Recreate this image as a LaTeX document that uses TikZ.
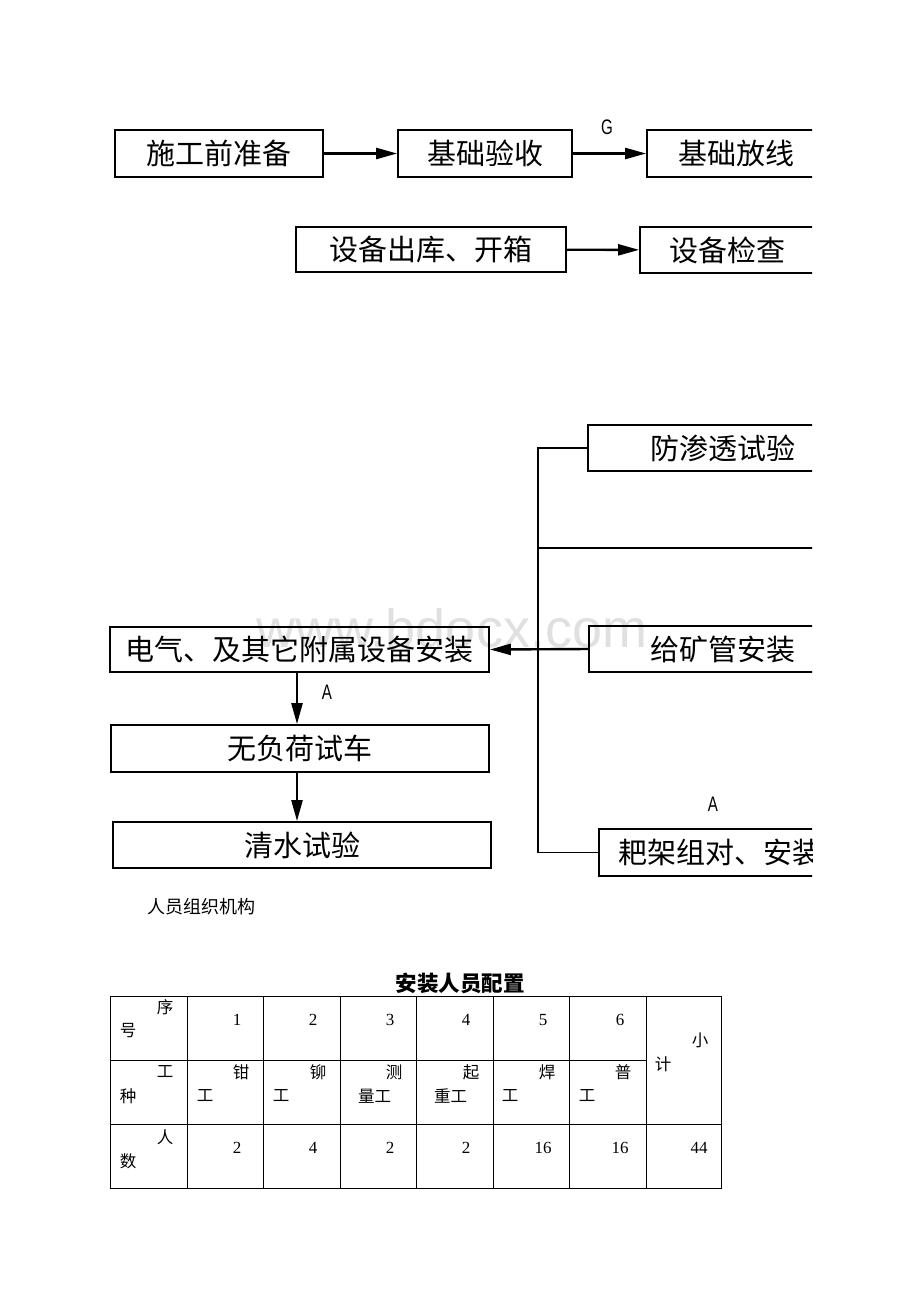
\documentclass[tikz,border=0pt]{standalone}
\usepackage{fontspec}
\setmainfont{Liberation Serif}
\newfontfamily\cjk{Noto Sans CJK SC}
\newfontfamily\lat{Liberation Sans}
\newfontfamily\narrowlat[FakeStretch=0.72]{Liberation Sans}
\usetikzlibrary{arrows.meta}
\begin{document}
\begin{tikzpicture}[x=1pt,y=-1pt,
 box/.style={draw,line width=1.8pt,inner sep=0pt,font=\cjk\fontsize{29}{32}\selectfont},
 conn/.style={line width=2.4pt},
 thin/.style={line width=1.6pt},
 arr/.style={conn,-{Triangle[length=21pt,width=11pt]}},
 lbl/.style={font=\narrowlat\fontsize{21}{23}\selectfont,inner sep=0pt},
 tline/.style={line width=1pt},
 tc/.style={font=\cjk\fontsize{16.5}{18}\selectfont,inner sep=0pt},
 tn/.style={font=\rmfamily\fontsize{17}{19}\selectfont,inner sep=0pt}]
\useasboundingbox (0,0) rectangle (920,1302);
\fill[white] (0,0) rectangle (920,1302);
% watermark
\node[font=\lat\fontsize{54}{56}\selectfont,text=black!12,inner sep=0pt] (wm) at (452,628) {www.bdocx.com};
\begin{scope}
\clip (0,0) rectangle (812,1302);
% top row
\node[box,minimum width=208pt,minimum height=47pt] (a) at (219,153.5) {施工前准备};
\node[box,minimum width=174pt,minimum height=47pt] (b) at (485,153.5) {基础验收};
\node[box,minimum width=178pt,minimum height=47pt] (c) at (736,153.5) {基础放线};
\draw[arr] (a) -- (b);
\draw[arr] (b) -- (c);
\node[lbl] (g) at (607,127) {G};
% second row
\node[box,minimum width=270pt,minimum height=45pt] (d) at (431,249.5) {设备出库、开箱};
\node[box,minimum width=174pt,minimum height=46pt] (e) at (727,250) {设备检查};
\draw[arr] (d) -- (e);
% right column
\node[box,minimum width=270pt,minimum height=46pt] (f) at (723,448) {防渗透试验};
\node[box,minimum width=268pt,minimum height=46pt] (gk) at (723,649) {给矿管安装};
\node[box,minimum width=242pt,minimum height=47pt] (h) at (720,852.5) {耙架组对、安装};
\coordinate (sp) at (538,0);
\coordinate (r548) at (900,548);
\draw[thin] (f.west) -- (f.west -| sp) -- (h.west -| sp) -- (h.west);
\draw[thin] (sp |- r548) -- (r548);
\node[lbl] (a2) at (713,804) {A};
% left column
\node[box,minimum width=379pt,minimum height=45pt] (i) at (299.5,649.5) {电气、及其它附属设备安装};
\node[box,minimum width=378pt,minimum height=47pt] (j) at (300,748.5) {无负荷试车};
\node[box,minimum width=378pt,minimum height=46pt] (k) at (302,845) {清水试验};
\draw[arr] (gk.west) -- (i.east);
\draw[arr] (i.south -| 297,0) -- (j.north -| 297,0);
\draw[arr] (j.south -| 297,0) -- (k.north -| 297,0);
\node[lbl] (a1) at (327,692) {A};
\end{scope}
% caption
\node[font=\cjk\fontsize{18}{20}\selectfont,inner sep=0pt] (cap) at (201.5,907) {人员组织机构};
\node[font=\cjk\bfseries\fontsize{21.5}{24}\selectfont,inner sep=0pt] (ttl) at (460,983) {安装人员配置};
% table grid
\draw[tline] (110,996) rectangle (721,1188);
\draw[tline] (110,1060) -- (646,1060);
\draw[tline] (110,1124) -- (721,1124);
\foreach \x in {187,263,340,416,493,569,646} \draw[tline] (\x,996) -- (\x,1188);
% first column
\node[tc] (t1) at (165,1007) {序};
\node[tc] (t2) at (128,1031) {号};
\node[tc] (t3) at (165,1072) {工};
\node[tc] (t4) at (128,1096) {种};
\node[tc] (t5) at (165,1137) {人};
\node[tc] (t6) at (128,1161) {数};
% row 1 numbers
\node[tn] (n1) at (237,1020) {1};
\node[tn] (n2) at (313,1020) {2};
\node[tn] (n3) at (390,1020) {3};
\node[tn] (n4) at (466,1020) {4};
\node[tn] (n5) at (543,1020) {5};
\node[tn] (n6) at (620,1020) {6};
% row 2 trades
\node[tc] (w1a) at (241,1072) {钳};
\node[tc] (w1b) at (205,1096) {工};
\node[tc] (w2a) at (318,1072) {铆};
\node[tc] (w2b) at (281,1096) {工};
\node[tc] (w3a) at (394,1072) {测};
\node[tc,anchor=west] (w3b) at (358,1096) {量工};
\node[tc] (w4a) at (471,1072) {起};
\node[tc,anchor=west] (w4b) at (434,1096) {重工};
\node[tc] (w5a) at (547,1072) {焊};
\node[tc] (w5b) at (510,1096) {工};
\node[tc] (w6a) at (623,1072) {普};
\node[tc] (w6b) at (587,1096) {工};
% subtotal
\node[tc] (s1) at (700,1040) {小};
\node[tc] (s2) at (663,1064) {计};
% row 3 counts
\node[tn] (c1) at (237,1148) {2};
\node[tn] (c2) at (313,1148) {4};
\node[tn] (c3) at (390,1148) {2};
\node[tn] (c4) at (466,1148) {2};
\node[tn] (c5) at (543,1148) {16};
\node[tn] (c6) at (620,1148) {16};
\node[tn] (c7) at (699,1148) {44};
\end{tikzpicture}
\end{document}
